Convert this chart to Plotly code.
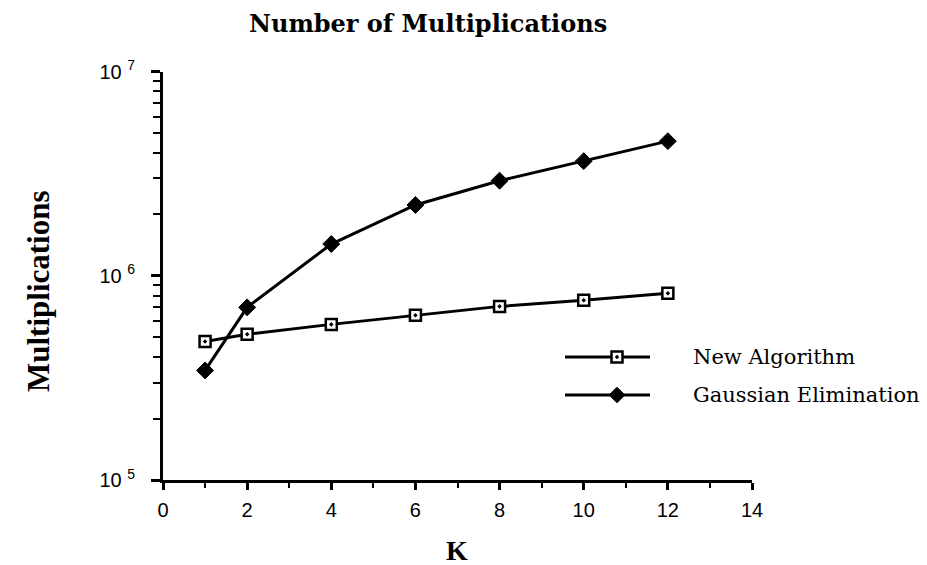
import plotly.graph_objects as go

K = [1, 2, 4, 6, 8, 10, 12]
new_algorithm = [4.77e5, 5.17e5, 5.78e5, 6.40e5, 7.08e5, 7.58e5, 8.20e5]
gaussian = [3.44e5, 7.0e5, 1.43e6, 2.22e6, 2.92e6, 3.64e6, 4.56e6]
x_ticks = [0, 2, 4, 6, 8, 10, 12, 14]
y_ticks = [1e5, 1e6, 1e7]
y_ticktext = ["10 <sup>5</sup>", "10 <sup>6</sup>", "10 <sup>7</sup>"]
y_minor = [m * d for d in (1e5, 1e6) for m in range(2, 10)]
names = ["New Algorithm", "Gaussian Elimination"]

W, H = 927, 565
x0, x1 = 163, 752
y_top, y_bot = 71.5, 480

fig = go.Figure()
fig.add_trace(go.Scatter(
    x=K, y=new_algorithm, mode="lines+markers", name=names[0],
    line=dict(color="black", width=3),
    marker=dict(symbol="square-dot", size=11, color="white",
                line=dict(color="black", width=2.5)),
    showlegend=False))
fig.add_trace(go.Scatter(
    x=K, y=gaussian, mode="lines+markers", name=names[1],
    line=dict(color="black", width=3),
    marker=dict(symbol="diamond", size=13, color="black",
                line=dict(color="black", width=1)),
    showlegend=False))

# legend samples on a separate invisible axis pair in pixel units
leg_y = [357, 395]
leg_sym = [dict(symbol="square-dot", size=11, color="white", line=dict(color="black", width=2.5)),
           dict(symbol="diamond", size=12, color="black", line=dict(color="black", width=1))]
for i in range(2):
    fig.add_trace(go.Scatter(
        x=[565, 650], y=[leg_y[i], leg_y[i]], mode="lines",
        line=dict(color="black", width=3), xaxis="x2", yaxis="y2",
        showlegend=False, hoverinfo="skip"))
    fig.add_trace(go.Scatter(
        x=[617], y=[leg_y[i]], mode="markers", marker=leg_sym[i],
        xaxis="x2", yaxis="y2", showlegend=False, hoverinfo="skip"))
    fig.add_annotation(x=691, y=leg_y[i], xref="x2", yref="y2", text=names[i],
                       showarrow=False, xanchor="left", yanchor="middle",
                       font=dict(family="DejaVu Serif", size=21, color="black"))

fig.update_layout(
    width=W, height=H,
    margin=dict(l=0, r=0, t=0, b=0, autoexpand=False),
    paper_bgcolor="white", plot_bgcolor="rgba(0,0,0,0)",
    xaxis=dict(domain=[x0 / W, x1 / W], range=[0, 14], tickvals=x_ticks,
               ticks="outside", ticklen=7, tickwidth=2.5, tickcolor="black",
               showline=True, linecolor="black", linewidth=3, showgrid=False,
               zeroline=False, automargin=False, ticklabelstandoff=3,
               tickfont=dict(family="Liberation Sans", size=20, color="black"),
               minor=dict(ticks="outside", ticklen=5, tickwidth=2, tickcolor="black", dtick=1,
                          showgrid=False)),
    yaxis=dict(domain=[1 - y_bot / H, 1 - y_top / H], type="log", range=[5, 7],
               tickvals=y_ticks, ticktext=y_ticktext,
               ticks="outside", ticklen=9, tickwidth=2.5, tickcolor="black",
               showline=True, linecolor="black", linewidth=3, showgrid=False,
               zeroline=False, automargin=False, ticklabelstandoff=12,
               tickfont=dict(family="Liberation Sans", size=20, color="black"),
               minor=dict(ticks="outside", ticklen=7, tickwidth=2, tickcolor="black",
                          tickvals=y_minor, showgrid=False)),
    xaxis2=dict(domain=[0, 1], range=[0, W], visible=False, anchor="y2", fixedrange=True),
    yaxis2=dict(domain=[0, 1], range=[H, 0], visible=False, anchor="x2", fixedrange=True),
)
fig.add_annotation(x=428 / W, y=1 - 23 / H, xref="paper", yref="paper",
                   text="<b>Number of Multiplications</b>", showarrow=False,
                   xanchor="center", yanchor="middle",
                   font=dict(family="DejaVu Serif", size=24, color="black"))
fig.add_annotation(x=38 / W, y=1 - 291 / H, xref="paper", yref="paper",
                   text="<b>Multiplications</b>", showarrow=False, textangle=-90,
                   xanchor="center", yanchor="middle",
                   font=dict(family="Liberation Serif", size=31, color="black"))
fig.add_annotation(x=457 / W, y=1 - 550 / H, xref="paper", yref="paper",
                   text="<b>K</b>", showarrow=False,
                   xanchor="center", yanchor="middle",
                   font=dict(family="Liberation Serif", size=28, color="black"))

fig.write_html("out.html")
